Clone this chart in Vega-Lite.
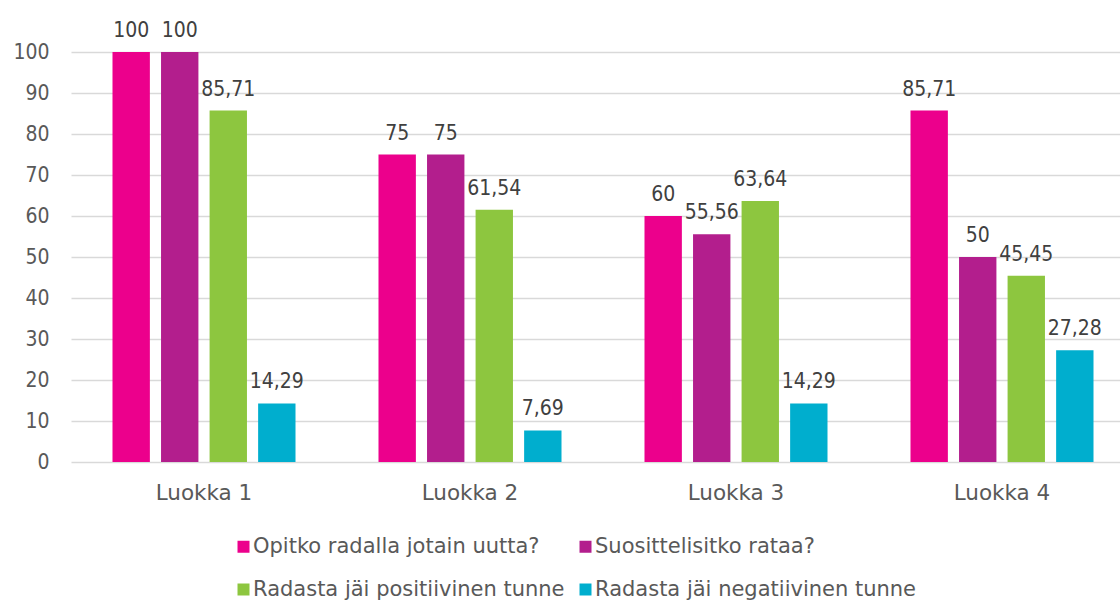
{
  "$schema": "https://vega.github.io/schema/vega-lite/v6.json",
  "autosize": {"type": "none"},
  "padding": {"left": 71, "top": 52, "right": 0, "bottom": 141},
  "width": 1064,
  "height": 410,
  "background": "white",
  "data": {
    "values": [
      {"group": "Luokka 1", "series": "Opitko radalla jotain uutta?", "value": 100},
      {"group": "Luokka 1", "series": "Suosittelisitko rataa?", "value": 100},
      {"group": "Luokka 1", "series": "Radasta jäi positiivinen tunne", "value": 85.71},
      {"group": "Luokka 1", "series": "Radasta jäi negatiivinen tunne", "value": 14.29},
      {"group": "Luokka 2", "series": "Opitko radalla jotain uutta?", "value": 75},
      {"group": "Luokka 2", "series": "Suosittelisitko rataa?", "value": 75},
      {"group": "Luokka 2", "series": "Radasta jäi positiivinen tunne", "value": 61.54},
      {"group": "Luokka 2", "series": "Radasta jäi negatiivinen tunne", "value": 7.69},
      {"group": "Luokka 3", "series": "Opitko radalla jotain uutta?", "value": 60},
      {"group": "Luokka 3", "series": "Suosittelisitko rataa?", "value": 55.56},
      {"group": "Luokka 3", "series": "Radasta jäi positiivinen tunne", "value": 63.64},
      {"group": "Luokka 3", "series": "Radasta jäi negatiivinen tunne", "value": 14.29},
      {"group": "Luokka 4", "series": "Opitko radalla jotain uutta?", "value": 85.71},
      {"group": "Luokka 4", "series": "Suosittelisitko rataa?", "value": 50},
      {"group": "Luokka 4", "series": "Radasta jäi positiivinen tunne", "value": 45.45},
      {"group": "Luokka 4", "series": "Radasta jäi negatiivinen tunne", "value": 27.28}
    ]
  },
  "encoding": {
    "x": {
      "field": "group", "type": "nominal", "title": null,
      "scale": {"paddingInner": 0.27, "paddingOuter": 0.135},
      "axis": {"labelAngle": 0, "domain": false, "ticks": false, "labelPadding": 20, "labelFontSize": 21.5, "labelColor": "#595959", "labelFont": "DejaVu Sans"}
    },
    "xOffset": {
      "field": "series", "type": "nominal",
      "sort": ["Opitko radalla jotain uutta?", "Suosittelisitko rataa?", "Radasta jäi positiivinen tunne", "Radasta jäi negatiivinen tunne"],
      "scale": {"paddingInner": 0.23, "paddingOuter": 0.115}
    },
    "y": {
      "field": "value", "type": "quantitative", "title": null,
      "scale": {"domain": [0, 100], "nice": false},
      "axis": {"values": [0,10,20,30,40,50,60,70,80,90,100], "domain": false, "ticks": false, "grid": true, "gridColor": "#d9d9d9", "gridWidth": 1.5, "labelPadding": 22, "labelFontSize": 21, "labelColor": "#595959", "labelFont": "DejaVu Sans Condensed"}
    }
  },
  "layer": [
    {
      "mark": {"type": "bar"},
      "encoding": {
        "color": {
          "field": "series", "type": "nominal",
          "sort": ["Opitko radalla jotain uutta?", "Suosittelisitko rataa?", "Radasta jäi positiivinen tunne", "Radasta jäi negatiivinen tunne"],
          "scale": {"range": ["#EC008C", "#B31E8D", "#8DC63F", "#00AECE"]},
          "legend": {
            "title": null, "orient": "none", "legendX": 162, "legendY": 484,
            "columns": 2, "direction": "horizontal",
            "symbolType": "square", "symbolSize": 144, "symbolStrokeWidth": 0,
            "labelFontSize": 21, "labelColor": "#595959", "labelFont": "DejaVu Sans",
            "labelOffset": -1, "rowPadding": 21, "columnPadding": 10, "labelLimit": 500
          }
        }
      }
    },
    {
      "mark": {"type": "text", "baseline": "alphabetic", "dy": -15, "fontSize": 21, "color": "#404040", "font": "DejaVu Sans Condensed"},
      "encoding": {
        "text": {"field": "value", "type": "quantitative", "format": ".2~f"}
      }
    }
  ],
  "config": {
    "view": {"stroke": null},
    "locale": {"number": {"decimal": ",", "thousands": " ", "grouping": [3], "currency": ["", " €"]}}
  }
}
